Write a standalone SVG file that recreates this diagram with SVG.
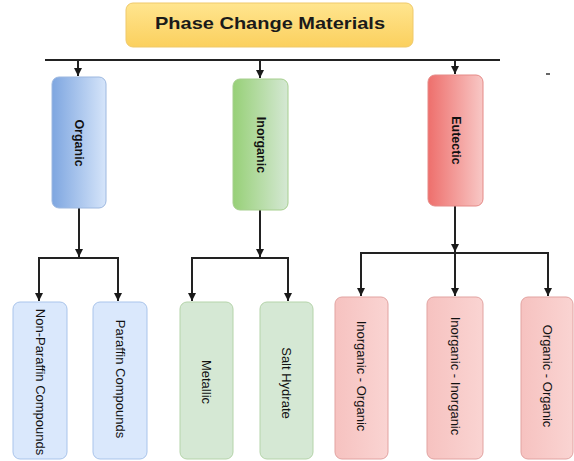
<svg xmlns="http://www.w3.org/2000/svg" width="574" height="461" viewBox="0 0 574 461">
<defs>
<linearGradient id="gTitle" x1="0" y1="0" x2="0" y2="1"><stop offset="0" stop-color="#ffe58f"/><stop offset="1" stop-color="#fbd05e"/></linearGradient>
<linearGradient id="gBlue" x1="0" y1="0" x2="1" y2="0"><stop offset="0" stop-color="#7ea6e0"/><stop offset="1" stop-color="#d6e5fa"/></linearGradient>
<linearGradient id="gGreen" x1="0" y1="0" x2="1" y2="0"><stop offset="0" stop-color="#97d077"/><stop offset="1" stop-color="#d5e8d4"/></linearGradient>
<linearGradient id="gRed" x1="0" y1="0" x2="1" y2="0"><stop offset="0" stop-color="#ee6f6c"/><stop offset="1" stop-color="#f8c8c6"/></linearGradient>
<linearGradient id="gPink" x1="0" y1="0" x2="1" y2="0"><stop offset="0" stop-color="#f6c2c0"/><stop offset="1" stop-color="#fad4d2"/></linearGradient>
<marker id="arr" viewBox="0 0 10 10" refX="10" refY="5" markerWidth="4.2" markerHeight="4.2" orient="auto" markerUnits="strokeWidth">
<path d="M0,0 L10,5 L0,10 z" fill="#1a1a1a"/>
</marker>
</defs>
<style>
.ln{stroke:#222;stroke-width:2;fill:none}
.top{font-family:"Liberation Sans",Arial,sans-serif;font-weight:bold;font-size:12.5px;fill:#111;text-anchor:middle;dominant-baseline:central}
.lbl{font-family:"Liberation Sans",Arial,sans-serif;font-size:13px;fill:#111;text-anchor:middle;dominant-baseline:central}
.cb{fill:#dae8fc;stroke:#a9c4eb;stroke-width:1}
.cg{fill:#d5e8d4;stroke:#b5d4aa;stroke-width:1}
.cp{fill:url(#gPink);stroke:#e2a3a1;stroke-width:1}
</style>

<g id="title">
<rect x="126" y="3" width="287" height="44" rx="7" fill="url(#gTitle)" stroke="#efc96a" stroke-width="1"/>
<text x="270" y="23" font-family="'Liberation Sans',Arial,sans-serif" font-weight="bold" font-size="17" fill="#1a1a1a" text-anchor="middle" dominant-baseline="central" textLength="230" lengthAdjust="spacingAndGlyphs">Phase Change Materials</text>
</g>

<g id="connectors">
<line class="ln" x1="45" y1="60" x2="500" y2="60"/>
<line class="ln" x1="78" y1="60" x2="78" y2="76" marker-end="url(#arr)"/>
<line class="ln" x1="260" y1="60" x2="260" y2="78" marker-end="url(#arr)"/>
<line class="ln" x1="455" y1="60" x2="455" y2="74" marker-end="url(#arr)"/>

<line class="ln" x1="79" y1="208" x2="79" y2="257" marker-end="url(#arr)"/>
<polyline class="ln" points="39,301 39,258 118,258 118,301" />
<line class="ln" x1="39" y1="270" x2="39" y2="301" marker-end="url(#arr)"/>
<line class="ln" x1="118" y1="270" x2="118" y2="301" marker-end="url(#arr)"/>

<line class="ln" x1="260" y1="210" x2="260" y2="257" marker-end="url(#arr)"/>
<polyline class="ln" points="192,301 192,258 288,258 288,301"/>
<line class="ln" x1="192" y1="270" x2="192" y2="301" marker-end="url(#arr)"/>
<line class="ln" x1="288" y1="270" x2="288" y2="301" marker-end="url(#arr)"/>

<line class="ln" x1="455" y1="206" x2="455" y2="252" marker-end="url(#arr)"/>
<polyline class="ln" points="361,296 361,253 548,253 548,296"/>
<line class="ln" x1="361" y1="265" x2="361" y2="296" marker-end="url(#arr)"/>
<line class="ln" x1="455" y1="253" x2="455" y2="296" marker-end="url(#arr)"/>
<line class="ln" x1="548" y1="265" x2="548" y2="296" marker-end="url(#arr)"/>
</g>

<g id="organic">
<rect x="52" y="77" width="54" height="131" rx="7" fill="url(#gBlue)" stroke="#9db8e0" stroke-width="1"/>
<text class="top" x="79" y="143" transform="rotate(90 79 143)">Organic</text>
</g>
<g id="inorganic">
<rect x="233" y="79" width="55" height="131" rx="7" fill="url(#gGreen)" stroke="#a6cf8e" stroke-width="1"/>
<text class="top" x="260.5" y="145" transform="rotate(90 260.5 145)">Inorganic</text>
</g>
<g id="eutectic">
<rect x="428" y="75" width="55" height="131" rx="7" fill="url(#gRed)" stroke="#e58a87" stroke-width="1"/>
<text class="top" x="455.5" y="140.5" transform="rotate(90 455.5 140.5)">Eutectic</text>
</g>

<g id="non-paraffin">
<rect class="cb" x="13" y="302" width="54" height="157" rx="7"/>
<text class="lbl" x="40" y="382" transform="rotate(90 40 382)">Non-Paraffin Compounds</text>
</g>
<g id="paraffin">
<rect class="cb" x="93" y="302" width="54" height="157" rx="7"/>
<text class="lbl" x="120" y="379" transform="rotate(90 120 379)">Paraffin Compounds</text>
</g>
<g id="metallic">
<rect class="cg" x="180" y="302" width="53" height="157" rx="7"/>
<text class="lbl" x="206.5" y="382" transform="rotate(90 206.5 382)">Metallic</text>
</g>
<g id="salt-hydrate">
<rect class="cg" x="260" y="302" width="53" height="157" rx="7"/>
<text class="lbl" x="286.5" y="383" transform="rotate(90 286.5 383)">Salt Hydrate</text>
</g>
<g id="inorganic-organic">
<rect class="cp" x="335" y="297" width="53" height="162" rx="7"/>
<text class="lbl" x="361.5" y="376" transform="rotate(90 361.5 376)">Inorganic - Organic</text>
</g>
<g id="inorganic-inorganic">
<rect class="cp" x="427" y="297" width="56" height="162" rx="7"/>
<text class="lbl" x="455" y="376" transform="rotate(90 455 376)">Inorganic - Inorganic</text>
</g>
<g id="organic-organic">
<rect class="cp" x="521" y="297" width="52" height="162" rx="7"/>
<text class="lbl" x="547" y="376" transform="rotate(90 547 376)">Organic - Organic</text>
</g>

<line x1="546" y1="74" x2="550" y2="74" stroke="#333" stroke-width="1.5"/>
</svg>
